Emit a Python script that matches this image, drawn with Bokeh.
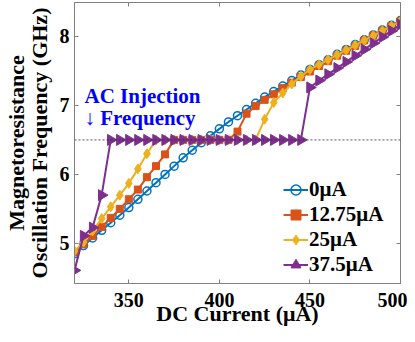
import math
from bokeh.plotting import figure
from bokeh.models import Range1d, Span, Label, LinearAxis, FixedTicker, Legend
from bokeh.embed import file_html
from bokeh.resources import INLINE

current = [320, 325, 330, 335, 340, 345, 350, 355, 360, 365, 370, 375, 380, 385,
           390, 395, 400, 405, 410, 415, 420, 425, 430, 435, 440, 445, 450, 455,
           460, 465, 470, 475, 480, 485, 490, 495, 500]

f_0 = [4.85, 4.97, 5.08, 5.19, 5.30, 5.41, 5.52, 5.64, 5.76, 5.88, 6.00, 6.12,
       6.24, 6.35, 6.46, 6.56, 6.66, 6.76, 6.85, 6.94, 7.03, 7.12, 7.20, 7.28,
       7.36, 7.44, 7.52, 7.59, 7.66, 7.74, 7.81, 7.88, 7.95, 8.02, 8.09, 8.16, 8.23]

f_12 = [4.87, 4.99, 5.11, 5.24, 5.37, 5.50, 5.64, 5.78, 5.96, 6.12, 6.29, 6.50,
        6.50, 6.50, 6.50, 6.50, 6.50, 6.50, 6.62, 6.88, 6.99, 7.08, 7.16, 7.25,
        7.33, 7.41, 7.49, 7.57, 7.64, 7.72, 7.79, 7.86, 7.94, 8.01, 8.08, 8.15, 8.22]

f_25 = [4.89, 5.02, 5.18, 5.36, 5.53, 5.70, 5.87, 6.08, 6.30, 6.50, 6.50, 6.50,
        6.50, 6.50, 6.50, 6.50, 6.50, 6.50, 6.50, 6.50, 6.50, 6.80, 7.04, 7.18,
        7.31, 7.42, 7.52, 7.59, 7.66, 7.73, 7.80, 7.87, 7.94, 8.01, 8.08, 8.15, 8.22]

f_37 = [4.61, 5.11, 5.23, 5.70, 6.50, 6.50, 6.50, 6.50, 6.50, 6.50, 6.50, 6.50,
        6.50, 6.50, 6.50, 6.50, 6.50, 6.50, 6.50, 6.50, 6.50, 6.50, 6.50, 6.50,
        6.50, 6.50, 7.26, 7.36, 7.45, 7.54, 7.63, 7.72, 7.81, 7.90, 7.99, 8.08, 8.17]

labels = ["0μA", "12.75μA", "25μA", "37.5μA"]
injection_freq = 6.5
x_ticks = [350, 400, 450, 500]
y_ticks = [5, 6, 7, 8]

FONT = "Liberation Serif"

p = figure(width=407, height=334, output_backend="svg", toolbar_location=None,
           x_range=Range1d(320, 500), y_range=Range1d(4.42, 8.49),
           min_border_left=74, min_border_right=7, min_border_top=2,
           min_border_bottom=51)
p.grid.visible = False
p.outline_line_color = "#808080"
p.background_fill_color = "white"

for ax in (p.xaxis[0], p.yaxis[0]):
    ax.major_tick_in = 4
    ax.major_tick_out = 0
    ax.minor_tick_line_color = None
    ax.axis_line_color = "#808080"
    ax.major_tick_line_color = "#808080"
    ax.major_label_text_font = FONT
    ax.major_label_text_font_style = "bold"
    ax.major_label_text_font_size = "20px"
    ax.major_label_text_color = "black"
    ax.axis_label_text_font = FONT
    ax.axis_label_text_font_style = "bold"
    ax.axis_label_text_color = "black"

p.xaxis[0].ticker = FixedTicker(ticks=x_ticks)
p.yaxis[0].ticker = FixedTicker(ticks=y_ticks)
p.xaxis[0].axis_label = "DC Current (μA)"
p.xaxis[0].axis_label_text_font_size = "22px"
p.xaxis[0].axis_label_standoff = -9
p.xaxis[0].major_label_standoff = 9
p.yaxis[0].major_label_standoff = 5
p.yaxis[0].axis_label = "Oscillation Frequency (GHz)"
p.yaxis[0].axis_label_text_font_size = "22px"
p.yaxis[0].axis_label_standoff = 5

# outer left axis carrying the first line of the y title
outer = LinearAxis(ticker=FixedTicker(ticks=[]), axis_line_color=None,
                   major_tick_line_color=None, minor_tick_line_color=None,
                   major_tick_in=0, major_tick_out=0, major_label_standoff=0,
                   axis_label="Magnetoresistance", axis_label_standoff=-5,
                   axis_label_text_font=FONT, axis_label_text_font_style="bold",
                   axis_label_text_font_size="22px", axis_label_text_color="black")
p.add_layout(outer, "left")

for loc, tk in (("above", x_ticks), ("right", y_ticks)):
    ax = LinearAxis(ticker=FixedTicker(ticks=tk), major_tick_in=4, major_tick_out=0,
                    minor_tick_line_color=None, axis_line_color="#808080",
                    major_tick_line_color="#808080", major_label_standoff=0,
                    major_label_overrides={t: "" for t in tk})
    p.add_layout(ax, loc)

p.add_layout(Span(location=injection_freq, dimension="width", line_color="#303030",
                  line_alpha=0.8, line_dash="2 2", line_width=1))

colors = ["#0072BD", "#D95319", "#EDB120", "#7E2F8E"]
series = [f_0, f_12, f_25, f_37]
markers = ["circle", "square", "diamond", "triangle"]
sizes = [8, 7, 10, 11]
items = []
for ys, c, m, s, lab in zip(series, colors, markers, sizes, labels):
    r1 = p.line(current, ys, line_color=c, line_width=2)
    if m == "circle":
        r2 = p.scatter(current, ys, marker="circle", size=s, line_color=c,
                       line_width=1.5, fill_color=None)
    elif m == "triangle":
        r2 = p.scatter(current, ys, marker="triangle", size=s, angle=-math.pi / 2,
                       line_color=c, fill_color=c)
    else:
        r2 = p.scatter(current, ys, marker=m, size=s, line_color=c, fill_color=c)
    items.append((lab, [r1, r2]))

legend = Legend(items=items, location=(209, 6), border_line_color=None,
                background_fill_alpha=0, padding=0, margin=0, spacing=0,
                glyph_width=25, glyph_height=25, label_height=25, label_standoff=1,
                label_text_font=FONT, label_text_font_style="bold",
                label_text_font_size="21px", label_text_color="black")
p.add_layout(legend, "center")

p.add_layout(Label(x=325.5, y=7.14, text="AC Injection", text_font=FONT,
                   text_font_style="bold", text_font_size="21px",
                   text_color="#0000FF", text_baseline="alphabetic"))
p.add_layout(Label(x=325.5, y=6.81, text="↓ Frequency", text_font=FONT,
                   text_font_style="bold", text_font_size="21px",
                   text_color="#0000FF", text_baseline="alphabetic"))

open("out.html", "w").write(file_html(p, INLINE))
